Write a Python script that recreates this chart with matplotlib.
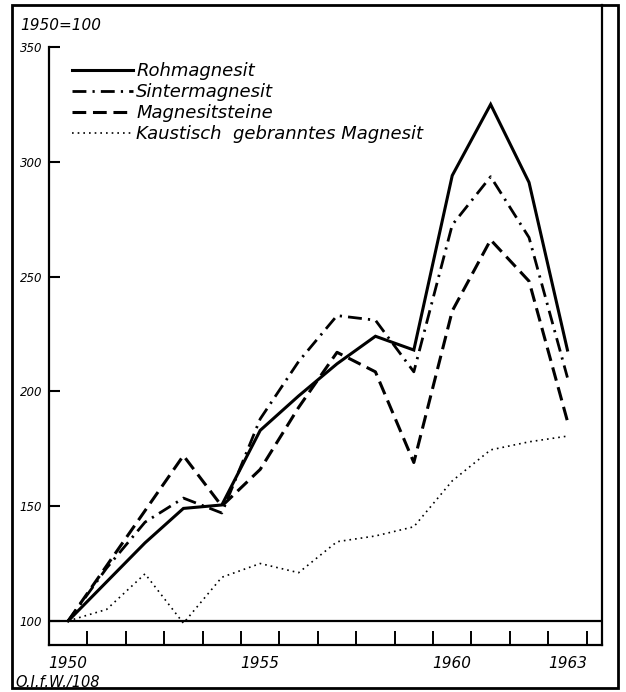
"""Index der Magnesitproduktion 1950-1963 (1950=100)."""

import matplotlib

matplotlib.use("Agg")
import matplotlib.pyplot as plt
from matplotlib import font_manager
from matplotlib.patches import Rectangle

years = list(range(1950, 1964))
rohmagnesit = [100, 117, 134, 149, 150.5, 183, 198, 212, 224, 218, 294, 325, 291, 218]
sintermagnesit = [100, 123, 143, 153.5, 147, 188, 213, 233, 231, 208.5, 272.5, 293.5, 267, 206]
magnesitsteine = [100, 124, 148, 172, 150, 166, 193, 217, 208.5, 169, 235, 266, 248, 187]
kaustisch = [100, 105, 120.5, 99, 119, 125, 121, 134.5, 137, 141, 161, 174.5, 178, 180.5]

series_labels = [
    "Rohmagnesit",
    "Sintermagnesit",
    "Magnesitsteine",
    "Kaustisch  gebranntes Magnesit",
]
y_ticks = [100, 150, 200, 250, 300, 350]
x_labels = [1950, 1955, 1960, 1963]

installed = {f.name for f in font_manager.fontManager.ttflist}
narrow = "Liberation Sans Narrow" if "Liberation Sans Narrow" in installed else "DejaVu Sans"
label_size = 13 if narrow != "DejaVu Sans" else 11

W, H = 626, 692
fig = plt.figure(figsize=(W / 100, H / 100), dpi=100)
ax = fig.add_axes([49 / W, 1 - 645 / H, (602 - 49) / W, (645 - 5) / H])

ax.plot(years, rohmagnesit, color="black", lw=2.2, solid_joinstyle="miter",
        label=series_labels[0])
ax.plot(years, sintermagnesit, color="black", lw=2.0, linestyle=(0, (5, 2.2, 0.8, 2.2)),
        label=series_labels[1])
ax.plot(years, magnesitsteine, color="black", lw=2.2, linestyle=(0, (4.5, 2.2)),
        label=series_labels[2])
ax.plot(years, kaustisch, color="black", lw=1.2, linestyle=(0, (1, 2.4)),
        label=series_labels[3])

ax.axhline(100, color="black", lw=1.6)

ax.set_xlim(1949.5, 1963.9)
ax.set_ylim(89.5, 368.3)

ax.spines["top"].set_visible(False)
for side in ("left", "right", "bottom"):
    ax.spines[side].set_linewidth(1.6)
ax.spines["left"].set_bounds(89.5, 350)

ax.set_yticks(y_ticks)
ax.set_yticklabels([str(v) for v in y_ticks], fontsize=8.5, style="italic")
ax.tick_params(axis="y", direction="in", length=8, width=1.5, pad=5)

ax.set_xticks(x_labels)
ax.set_xticklabels([str(v) for v in x_labels], fontsize=label_size, style="italic",
                   family=narrow)
ax.tick_params(axis="x", which="major", length=0, pad=8)
ax.set_xticks([y + 0.5 for y in years], minor=True)
ax.tick_params(axis="x", which="minor", direction="in", length=10, width=1.4)

ax.legend(loc="upper left", bbox_to_anchor=(72 / W, 1 - 62 / H),
          bbox_transform=fig.transFigure, frameon=False, borderpad=0,
          borderaxespad=0, handlelength=3.4, handletextpad=0.15,
          labelspacing=0.17, prop={"size": 13, "style": "italic"})

fig.text(20 / W, 1 - 25 / H, "1950=100", fontsize=label_size, style="italic",
         family=narrow, va="center", ha="left")
fig.text(15 / W, 1 - 682 / H, "O.I.f.W./108", fontsize=10.5, style="italic",
         family=narrow, va="center", ha="left")

fig.add_artist(Rectangle((12 / W, 1 - 688 / H), (618 - 12) / W, (688 - 5) / H,
                         transform=fig.transFigure, fill=False, lw=2,
                         edgecolor="black"))

fig.savefig("out.png", dpi=100)
